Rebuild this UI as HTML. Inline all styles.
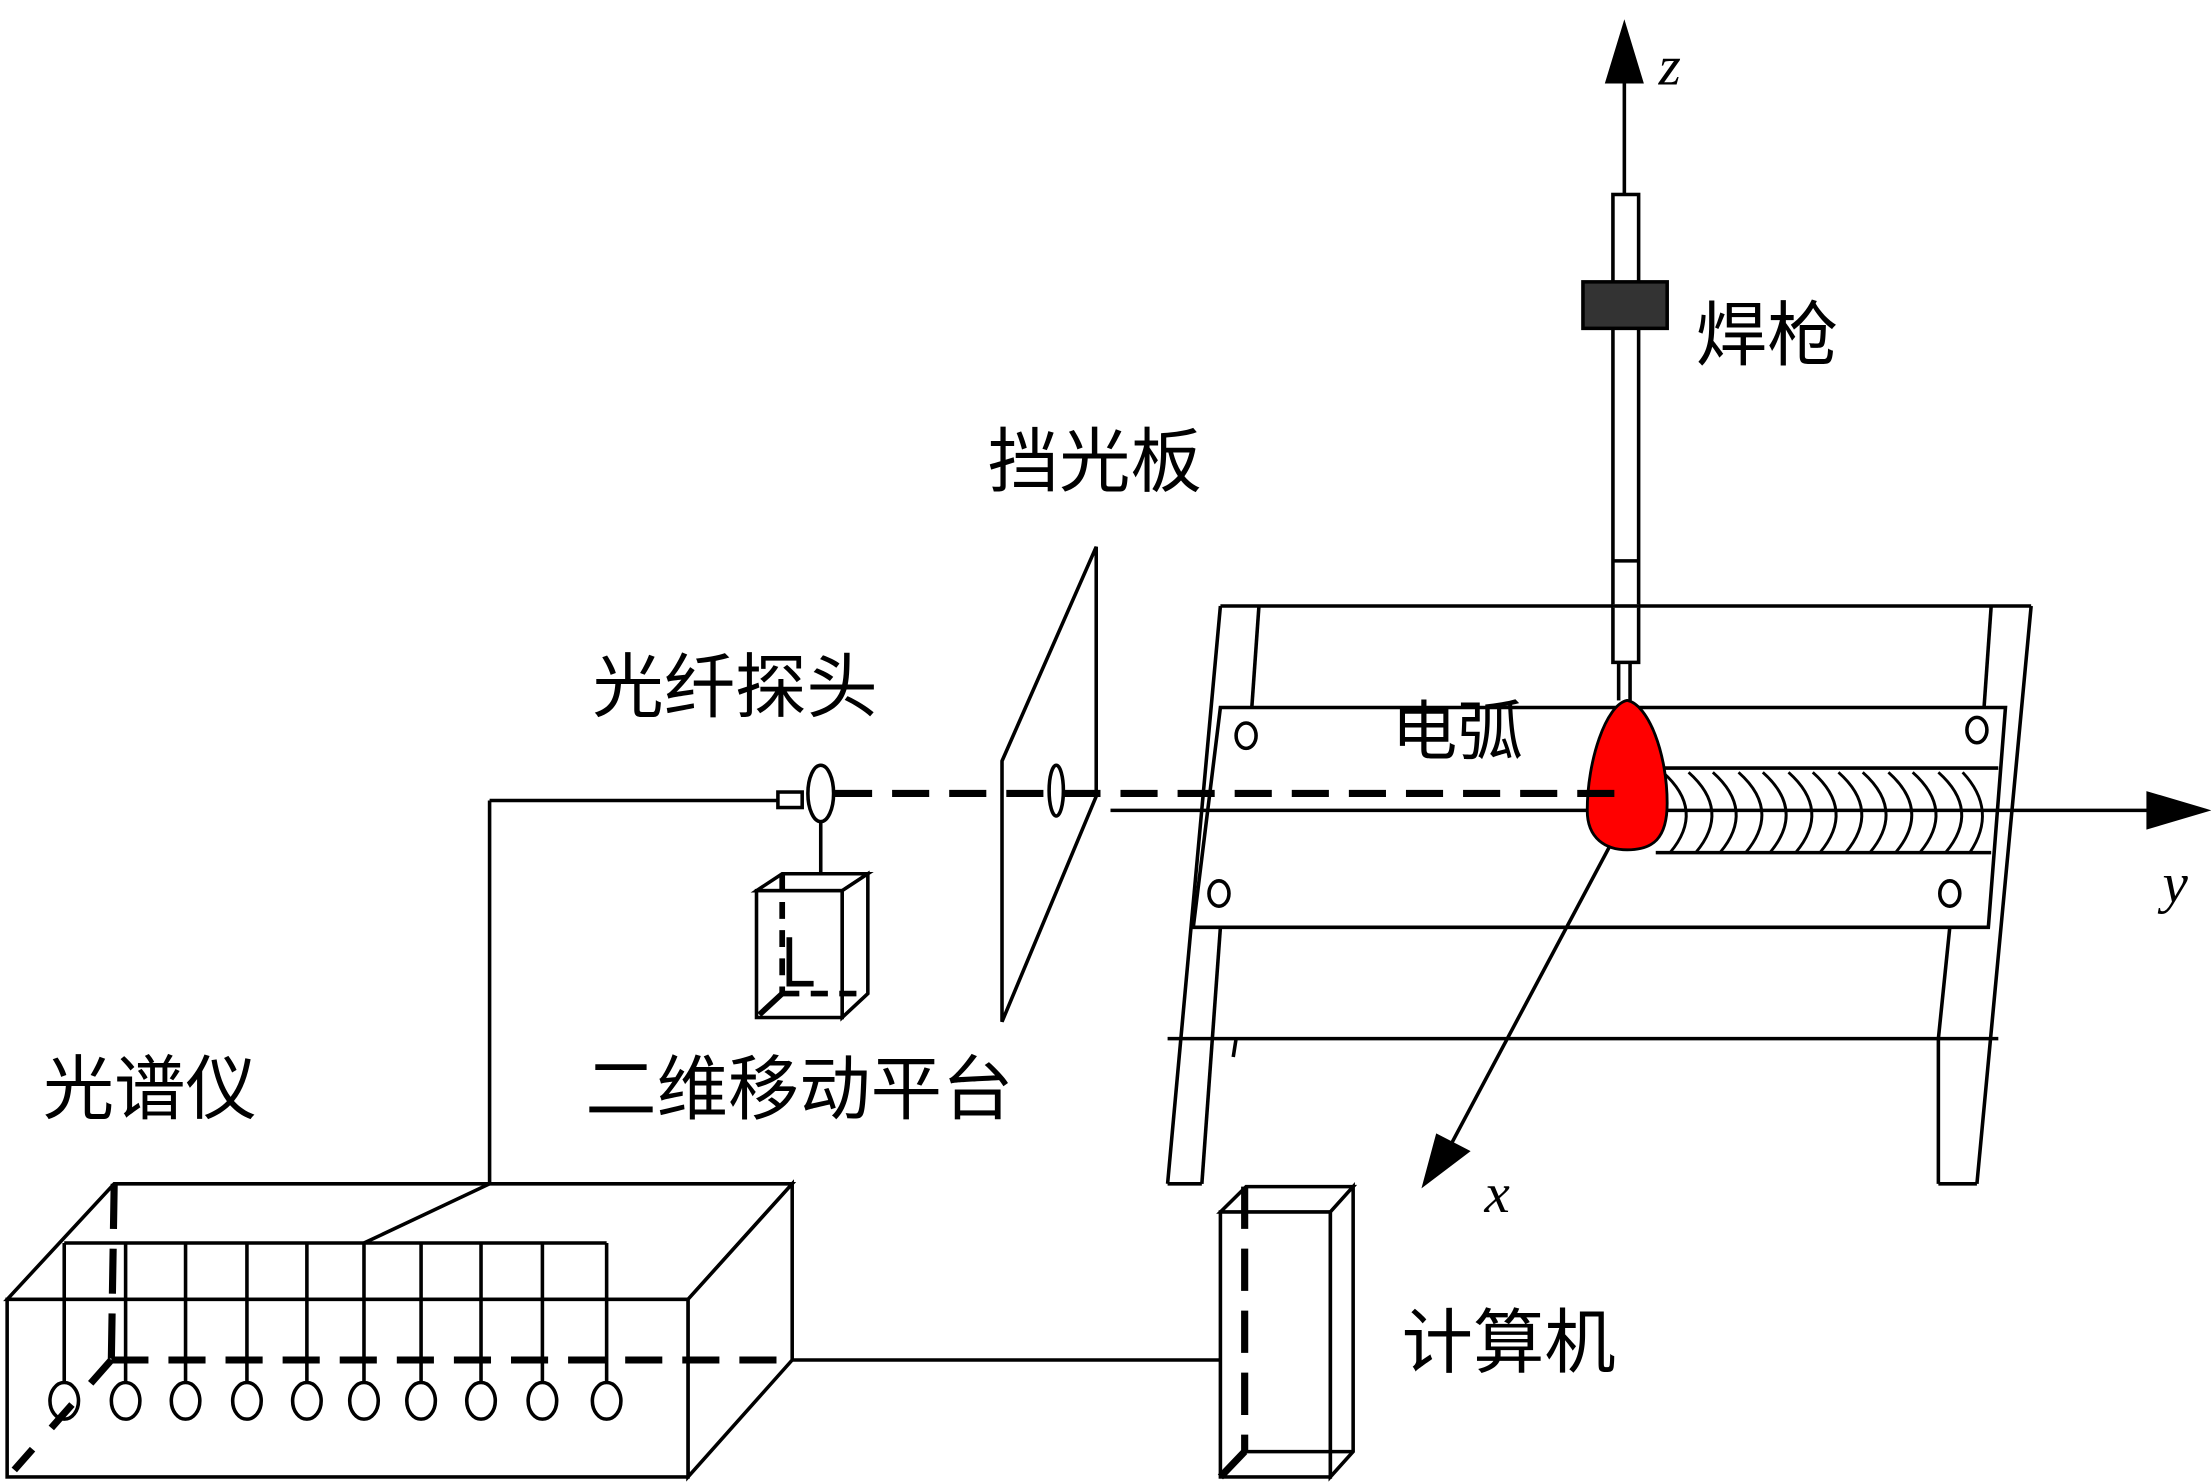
<!DOCTYPE html>
<html><head><meta charset="utf-8"><style>
html,body{margin:0;padding:0;background:#fff;}
svg{display:block;}
text{font-family:"Liberation Sans","Noto Sans CJK SC",sans-serif;fill:#000;}
.it{font-family:"Liberation Serif",serif;font-style:italic;}
</style></head><body>
<svg width="2211" height="1484" viewBox="0 0 1549 1053" preserveAspectRatio="none" xmlns="http://www.w3.org/2000/svg">
<g fill="none" stroke="#000" stroke-width="2.5">
<!-- z axis -->
<line x1="1138" y1="138" x2="1138" y2="55"/>
<polygon points="1138,18 1126,58 1150,58" fill="#000"/>
<!-- torch -->
<rect x="1130" y="138" width="18" height="332" fill="#fff"/>
<rect x="1109" y="200" width="59" height="33" fill="#333"/>
<line x1="1130" y1="398" x2="1148" y2="398"/>
<line x1="1130" y1="430" x2="1148" y2="430" stroke="#bbb"/>
<line x1="1134" y1="470" x2="1134" y2="497"/>
<line x1="1142" y1="470" x2="1142" y2="497"/>
<!-- shield -->
<polygon points="702,725 702,540 768,388 768,565" fill="#fff"/>
<ellipse cx="740" cy="561" rx="5" ry="18"/>
<!-- frame -->
<line x1="855" y1="430" x2="1423" y2="430"/>
<line x1="855" y1="430" x2="818" y2="840"/>
<line x1="882" y1="430" x2="877" y2="502"/>
<line x1="1423" y1="430" x2="1385" y2="840"/>
<line x1="1395" y1="430" x2="1390" y2="502"/>
<line x1="818" y1="737" x2="1400" y2="737"/>
<line x1="818" y1="840" x2="842" y2="840"/>
<line x1="855" y1="658" x2="842" y2="840"/>
<line x1="866" y1="737" x2="864" y2="750"/>
<line x1="1358" y1="840" x2="1385" y2="840"/>
<line x1="1366" y1="658" x2="1358" y2="737"/>
<line x1="1358" y1="737" x2="1358" y2="840"/>
<!-- plate -->
<polygon points="855,502 1405,502 1393,658 836,658" fill="#fff"/>
<line x1="1160" y1="545" x2="1400" y2="545"/>
<line x1="1160" y1="605" x2="1395" y2="605"/>
<ellipse cx="873" cy="522" rx="7" ry="9"/>
<ellipse cx="1385" cy="518" rx="7" ry="9"/>
<ellipse cx="854" cy="634" rx="7" ry="9"/>
<ellipse cx="1366" cy="634" rx="7" ry="9"/>
<!-- bead -->
<g stroke-width="2">
<path d="M1165,548 Q1195,575 1170,605"/><path d="M1183,548 Q1213,575 1188,605"/>
<path d="M1200,548 Q1230,575 1205,605"/><path d="M1218,548 Q1248,575 1223,605"/>
<path d="M1235,548 Q1265,575 1240,605"/><path d="M1253,548 Q1283,575 1258,605"/>
<path d="M1270,548 Q1300,575 1275,605"/><path d="M1288,548 Q1318,575 1293,605"/>
<path d="M1305,548 Q1335,575 1310,605"/><path d="M1323,548 Q1353,575 1328,605"/>
<path d="M1340,548 Q1370,575 1345,605"/><path d="M1358,548 Q1388,575 1363,605"/>
<path d="M1375,548 Q1400,575 1380,605"/>
</g>
<!-- y axis -->
<line x1="778" y1="575" x2="1508" y2="575"/>
<polygon points="1545,575 1505,563 1505,587" fill="#000"/>
<!-- arc droplet -->
<path d="M1140,497 C1125,500 1112,540 1112,575 C1112,595 1125,603 1140,603 C1158,603 1168,595 1168,570 C1168,535 1155,500 1140,497 Z" fill="#f00" stroke-width="2"/>
<!-- dashed beam -->
<line x1="585" y1="563" x2="1140" y2="563" stroke-width="5" stroke-dasharray="26 14"/>
<!-- x axis -->
<line x1="1128" y1="600" x2="1015" y2="815"/>
<polygon points="998,840 1007,806 1028,817" fill="#000"/>
<!-- probe -->
<rect x="545" y="562" width="17" height="11" fill="#fff"/>
<ellipse cx="575" cy="563" rx="9" ry="20" fill="#fff"/>
<line x1="343" y1="568" x2="545" y2="568"/>
<line x1="575" y1="583" x2="575" y2="622"/>
<!-- stage -->
<polygon points="530,632 548,620 608,620 590,632" fill="#fff"/>
<polygon points="590,632 608,620 608,705 590,722" fill="#fff"/>
<rect x="530" y="632" width="60" height="90" fill="#fff"/>
<line x1="548" y1="620" x2="548" y2="705" stroke-width="4" stroke-dasharray="12 8"/>
<line x1="548" y1="705" x2="608" y2="705" stroke-width="4" stroke-dasharray="12 8"/>
<line x1="548" y1="705" x2="532" y2="720" stroke-width="4"/>
<path d="M553,665 L553,698 L570,698" stroke-width="4"/>
<!-- spectrometer -->
<line x1="343" y1="568" x2="343" y2="840"/>
<polygon points="5,922 80,840 555,840 482,922" fill="#fff"/>
<polygon points="482,922 555,840 555,965 482,1048" fill="#fff"/>
<rect x="5" y="922" width="477" height="126" fill="#fff"/>
<line x1="343" y1="840" x2="255" y2="882"/>
<line x1="45" y1="882" x2="425" y2="882"/>
<g>
<line x1="45" y1="882" x2="45" y2="993"/><line x1="88" y1="882" x2="88" y2="993"/>
<line x1="130" y1="882" x2="130" y2="993"/><line x1="173" y1="882" x2="173" y2="993"/>
<line x1="215" y1="882" x2="215" y2="993"/><line x1="255" y1="882" x2="255" y2="993"/>
<line x1="295" y1="882" x2="295" y2="993"/><line x1="337" y1="882" x2="337" y2="993"/>
<line x1="380" y1="882" x2="380" y2="993"/><line x1="425" y1="882" x2="425" y2="993"/>
</g>
<g stroke-width="2.5" fill="#fff">
<ellipse cx="45" cy="994" rx="10" ry="13"/><ellipse cx="88" cy="994" rx="10" ry="13"/>
<ellipse cx="130" cy="994" rx="10" ry="13"/><ellipse cx="173" cy="994" rx="10" ry="13"/>
<ellipse cx="215" cy="994" rx="10" ry="13"/><ellipse cx="255" cy="994" rx="10" ry="13"/>
<ellipse cx="295" cy="994" rx="10" ry="13"/><ellipse cx="337" cy="994" rx="10" ry="13"/>
<ellipse cx="380" cy="994" rx="10" ry="13"/><ellipse cx="425" cy="994" rx="10" ry="13"/>
</g>
<line x1="80" y1="840" x2="78" y2="965" stroke-width="5" stroke-dasharray="32 14"/>
<line x1="78" y1="965" x2="555" y2="965" stroke-width="5" stroke-dasharray="26 14"/>
<line x1="78" y1="965" x2="10" y2="1043" stroke-width="5" stroke-dasharray="22 20"/>
<line x1="555" y1="965" x2="862" y2="965"/>
<!-- computer -->
<polygon points="855,860 873,842 948,842 932,860" fill="#fff"/>
<polygon points="932,860 948,842 948,1030 932,1048" fill="#fff"/>
<rect x="855" y="860" width="77" height="188" fill="#fff"/>
<line x1="872" y1="842" x2="872" y2="1030" stroke-width="5" stroke-dasharray="30 14"/>
<line x1="872" y1="1030" x2="948" y2="1030"/>
<line x1="872" y1="1030" x2="855" y2="1048" stroke-width="5"/>
</g>
<!-- labels -->
<text x="1162" y="60" class="it" font-size="40">z</text>
<text x="1515" y="640" class="it" font-size="40">y</text>
<text x="1040" y="860" class="it" font-size="40">x</text>
<text x="1188" y="255" font-size="50">焊枪</text>
<text x="692" y="345" font-size="50">挡光板</text>
<text x="415" y="505" font-size="50">光纤探头</text>
<text x="975" y="535" font-size="46">电弧</text>
<text x="410" y="790" font-size="50">二维移动平台</text>
<text x="30" y="790" font-size="50">光谱仪</text>
<text x="982" y="970" font-size="50">计算机</text>
</svg>
</body></html>
